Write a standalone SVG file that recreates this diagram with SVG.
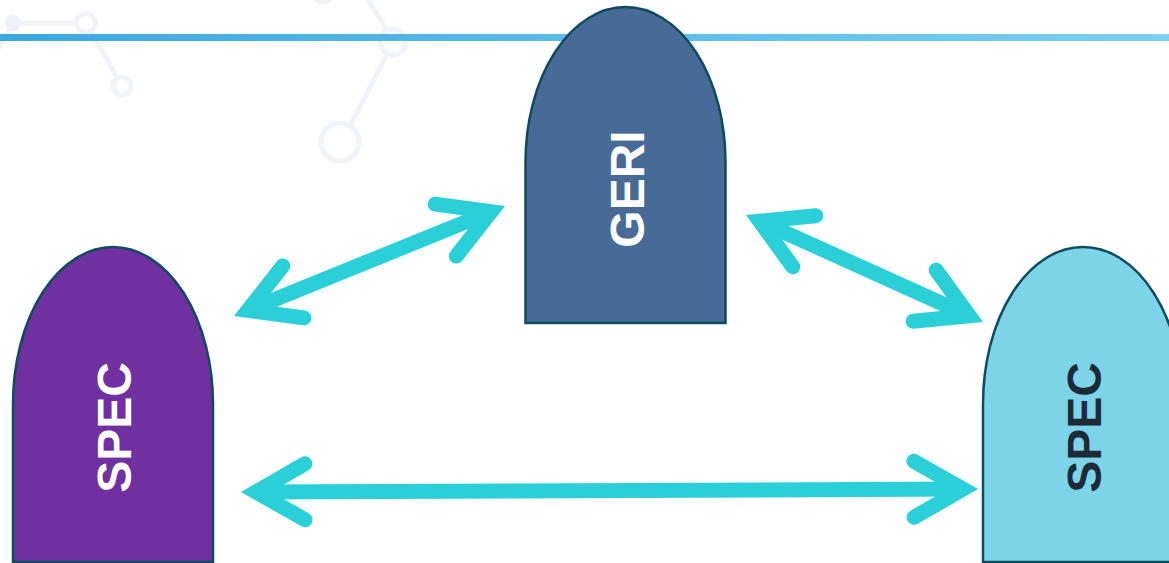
<svg xmlns="http://www.w3.org/2000/svg" xmlns:xlink="http://www.w3.org/1999/xlink" width="1169" height="563" viewBox="0 0 1169 563">
<style>
.deco{fill:none;stroke:#f2f3f8;stroke-width:5}
.node{stroke:#0e4b5f;stroke-width:2.5}
.lbl{font-family:"Liberation Sans",Arial,sans-serif;font-weight:bold;font-size:48px;text-anchor:middle}
.ar{fill:none;stroke:#2bcfd8;stroke-width:15;stroke-linecap:round;stroke-linejoin:miter}
.shaft{fill:none;stroke:#2bcfd8;stroke-width:15;stroke-linecap:butt}
</style>
<defs>
<linearGradient id="topline" x1="0" y1="0" x2="1" y2="0">
<stop offset="0" stop-color="#3aa8e0"/>
<stop offset="1" stop-color="#7bcff1"/>
</linearGradient>
<path id="hd" class="ar" d="M64,-28 L15,0 L64,28"/>
</defs>
<rect width="1169" height="563" fill="#ffffff"/>
<g id="background">
<line class="deco" x1="13" y1="23" x2="-6" y2="56"/>
<line class="deco" x1="13" y1="23" x2="77" y2="23"/>
<circle cx="13" cy="23" r="8" fill="#f0f1f7"/>
<circle class="deco" cx="86" cy="23" r="9.5"/>
<line class="deco" x1="91" y1="31" x2="117" y2="78"/>
<circle class="deco" cx="122" cy="86" r="9"/>
<circle class="deco" cx="323" cy="-8" r="10"/>
<line class="deco" x1="368" y1="0" x2="387" y2="30"/>
<circle class="deco" cx="393" cy="42" r="13"/>
<line class="deco" x1="387" y1="54" x2="351" y2="124"/>
<circle class="deco" cx="340" cy="142" r="19"/>
</g>
<rect id="top-line" x="0" y="34" width="1169" height="7" fill="url(#topline)"/>
<g id="connectors">
<g id="c-spec1-geri" transform="translate(234,316) rotate(-22.09)">
<line class="shaft" x1="15" y1="0" x2="277.5" y2="0"/>
<use xlink:href="#hd"/>
<use xlink:href="#hd" transform="translate(292.5,0) scale(-1,1)"/>
</g>
<g id="c-geri-spec2" transform="translate(746,215) rotate(24.3)">
<line class="shaft" x1="15" y1="0" x2="245" y2="0"/>
<use xlink:href="#hd"/>
<use xlink:href="#hd" transform="translate(260,0) scale(-1,1)"/>
</g>
<g id="c-spec1-spec2" transform="translate(241,492) rotate(-0.23)">
<line class="shaft" x1="15" y1="0" x2="722" y2="0"/>
<use xlink:href="#hd"/>
<use xlink:href="#hd" transform="translate(737,0) scale(-1,1)"/>
</g>
</g>
<g id="node-spec-left">
<path class="node" fill="#7030a0" d="M13,562 V404 A100,157 0 0 1 213,404 V562 Z"/>
<text class="lbl" fill="#ffffff" transform="translate(131,427.5) rotate(-90)" x="0" y="0">SPEC</text>
</g>
<g id="node-geri">
<path class="node" fill="#476a96" d="M525.5,323 V162 A100,155 0 0 1 725.5,162 V323 Z"/>
<text class="lbl" fill="#ffffff" transform="translate(644,189) rotate(-90)" x="0" y="0">GERI</text>
</g>
<g id="node-spec-right">
<path class="node" fill="#7dd4e8" d="M983,562 V404 A100,157 0 0 1 1183,404 V562 Z"/>
<text class="lbl" fill="#1d2b39" transform="translate(1101,427.5) rotate(-90)" x="0" y="0">SPEC</text>
</g>
</svg>
